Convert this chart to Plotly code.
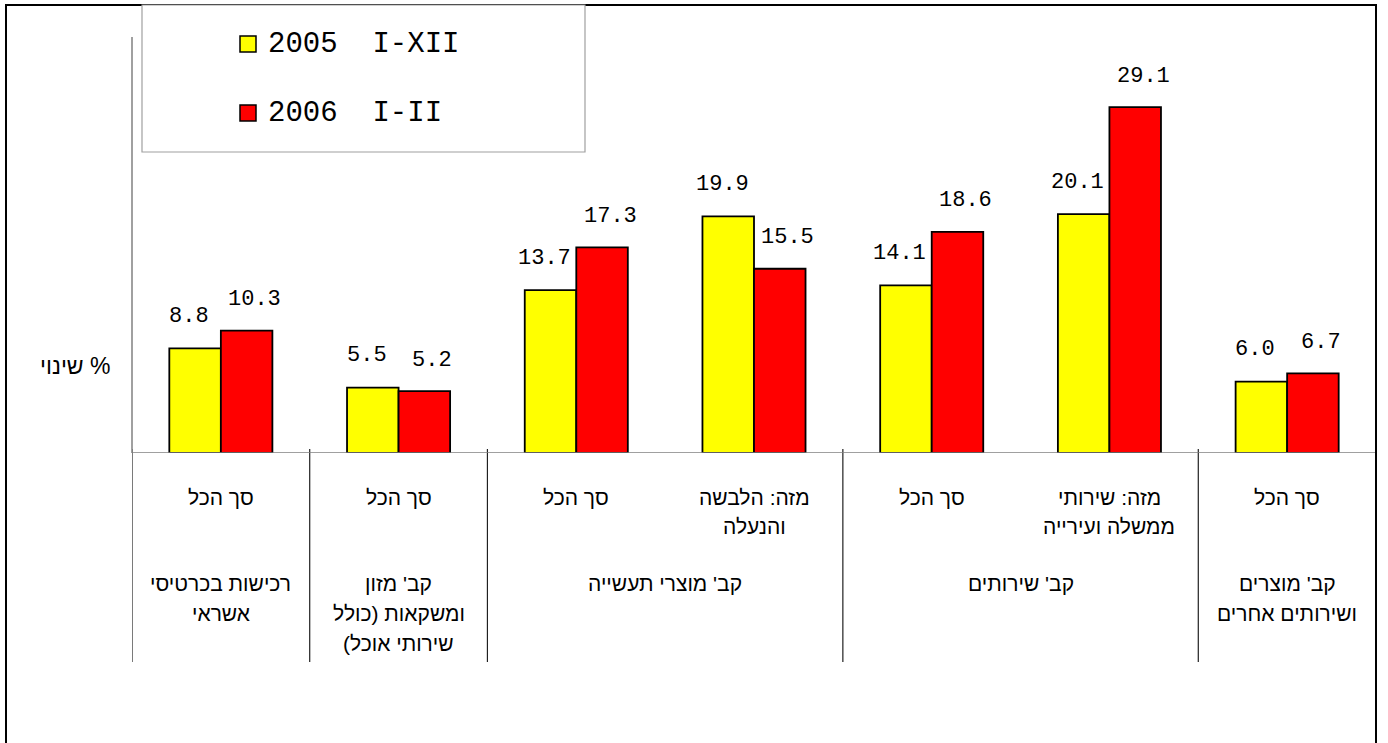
import plotly.graph_objects as go

# ---------------- data ----------------
series_names = ["2005\u00a0\u00a0I-XII", "2006\u00a0\u00a0I-II"]
values_2005 = [8.8, 5.5, 13.7, 19.9, 14.1, 20.1, 6.0]
values_2006 = [10.3, 5.2, 17.3, 15.5, 18.6, 29.1, 6.7]
# Hebrew strings are written in the logical order that the browser's
# right-to-left layout needs to show them as in the original picture.
sub_labels = [
    ["סך הכל"],
    ["סך הכל"],
    ["סך הכל"],
    ["מזה: הלבשה", "והנעלה"],
    ["סך הכל"],
    ["מזה: שירותי", "ממשלה ועירייה"],
    ["סך הכל"],
]
group_labels = [
    ["רכישות בכרטיסי", "אשראי"],
    ["קב' מזון", "ומשקאות (כולל", "(שירותי אוכל"],
    ["קב' מוצרי תעשייה"],
    ["קב' שירותים"],
    ["קב' מוצרים", "ושירותים אחרים"],
]
group_spans = [(0, 1), (1, 2), (2, 4), (4, 6), (6, 7)]
y_title = "שינוי %"
colors = ["#FFFF00", "#FF0000"]

# ---------------- layout geometry (pixels) ----------------
W, H = 1388, 743
PL, PR, PT, PB = 132, 1376, 37, 453  # plot area edges
pw, ph = PR - PL, PB - PT


def px_x(p):
    return (p - PL) / pw


def px_y(p):
    return (PB - p) / ph


n = len(values_2005)
xs = [i + 0.5 for i in range(n)]
num_font = "Liberation Mono, Courier New, monospace"
heb_font = "Liberation Sans, Arial, sans-serif"

fig = go.Figure()
for name, vals, col in zip(series_names, [values_2005, values_2006], colors):
    fig.add_trace(go.Bar(
        x=xs, y=vals, name=name,
        marker=dict(color=col, line=dict(color="black", width=1.8)),
        showlegend=False, hoverinfo="skip",
    ))

annotations = []
shapes = []

# data labels
half = (1 - 0.42) / 4  # half of bar width in data units
for vals, xoff, xsh, ysh in [(values_2005, -half, -6, 32), (values_2006, half, 8, 31)]:
    for i, v in enumerate(vals):
        annotations.append(dict(
            x=xs[i] + xoff, y=v, xref="x", yref="y", text=f"{v:.1f}",
            showarrow=False, xshift=xsh, yshift=ysh, yanchor="middle",
            font=dict(family=num_font, size=22, color="black"),
        ))

heb_size = 21

# first-level category labels
for i, lines in enumerate(sub_labels):
    for k, ln in enumerate(lines):
        annotations.append(dict(
            x=xs[i], xref="x", y=px_y(497 + k * 29), yref="paper",
            text=ln, showarrow=False, yanchor="middle",
            font=dict(family=heb_font, size=heb_size, color="black"),
        ))

# second-level group labels
for (a, b), lines in zip(group_spans, group_labels):
    for k, ln in enumerate(lines):
        annotations.append(dict(
            x=(a + b) / 2, xref="x", y=px_y(583 + k * 30), yref="paper",
            text=ln, showarrow=False, yanchor="middle",
            font=dict(family=heb_font, size=heb_size, color="black"),
        ))

# separators between groups
bounds = sorted(set([a for a, b in group_spans] + [b for a, b in group_spans]))
for bx in bounds:
    shapes.append(dict(type="line", xref="x", yref="paper", x0=bx, x1=bx,
                       y0=px_y(449), y1=px_y(662),
                       line=dict(color="#202020", width=1.2)))

# y axis line
shapes.append(dict(type="line", xref="paper", yref="paper", x0=0, x1=0,
                   y0=px_y(PT), y1=px_y(PB), line=dict(color="#808080", width=1.5)))
# baseline
shapes.append(dict(type="line", xref="paper", yref="y", x0=0, x1=1,
                   y0=0, y1=0, line=dict(color="#808080", width=1.5)))

# outer frame
shapes.append(dict(type="rect", xref="paper", yref="paper",
                   x0=px_x(6), x1=px_x(1376), y0=px_y(760), y1=px_y(5),
                   line=dict(color="black", width=2)))

# legend box
shapes.append(dict(type="rect", xref="paper", yref="paper",
                   x0=px_x(142), x1=px_x(585), y0=px_y(152), y1=px_y(5),
                   line=dict(color="#A0A0A0", width=1.2), fillcolor="white"))
for k, (name, col) in enumerate(zip(series_names, colors)):
    cy = 44 + k * 69
    shapes.append(dict(type="rect", xref="paper", yref="paper",
                       x0=px_x(240), x1=px_x(256), y0=px_y(cy + 8), y1=px_y(cy - 8),
                       fillcolor=col, line=dict(color="black", width=1.5)))
    annotations.append(dict(
        x=px_x(266), y=px_y(cy), xref="paper", yref="paper", text=name,
        showarrow=False, xanchor="left", yanchor="middle",
        font=dict(family=num_font, size=29, color="black"),
    ))

# y title
annotations.append(dict(
    x=px_x(75), y=px_y(366), xref="paper", yref="paper", text=y_title,
    showarrow=False, xanchor="center", yanchor="middle",
    font=dict(family=heb_font, size=23, color="black"),
))

fig.update_layout(
    width=W, height=H,
    margin=dict(l=PL, r=W - PR, t=PT, b=H - PB, pad=0),
    paper_bgcolor="white", plot_bgcolor="white",
    barmode="group", bargap=0.42, bargroupgap=0,
    xaxis=dict(range=[0, n], showgrid=False, zeroline=False, showline=False,
               showticklabels=False, ticks="", fixedrange=True),
    yaxis=dict(range=[0, 35], showgrid=False, zeroline=False, showline=False,
               showticklabels=False, ticks="", fixedrange=True),
    shapes=shapes, annotations=annotations,
    showlegend=False,
)

fig.write_html("out.html", config={"displayModeBar": False},
               post_script="document.body.style.margin='0';document.body.style.overflow='hidden';")
